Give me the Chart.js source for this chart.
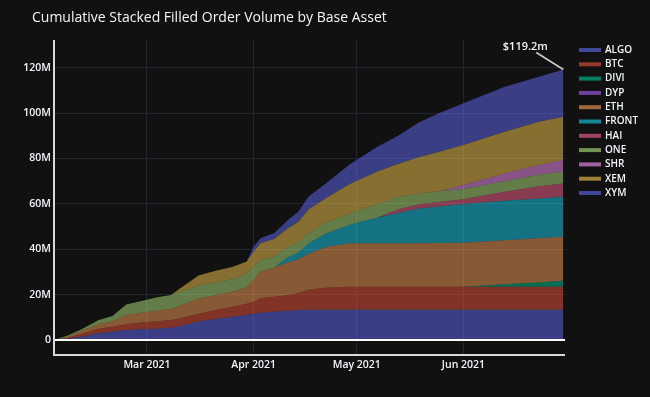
<!DOCTYPE html>
<html>
<head>
<meta charset="utf-8">
<script src="https://cdn.jsdelivr.net/npm/chart.js@4.4.0/dist/chart.umd.min.js"></script>
<style>
  html, body { margin: 0; padding: 0; background: #111111; }
  #wrap { width: 650px; height: 397px; }
</style>
</head>
<body>
<div id="wrap"><canvas id="chart" width="650" height="397"></canvas></div>
<script>
// ======= Data (values in $M, cumulative per asset) =======
const sampleDates = [
  "2021-02-02", "2021-02-06", "2021-02-10", "2021-02-15", "2021-02-19", "2021-02-23",
  "2021-02-28", "2021-03-04", "2021-03-08", "2021-03-10", "2021-03-16", "2021-03-21",
  "2021-03-26", "2021-03-30", "2021-04-01", "2021-04-03", "2021-04-07", "2021-04-11",
  "2021-04-14", "2021-04-17", "2021-04-22", "2021-04-29", "2021-05-07", "2021-05-13",
  "2021-05-19", "2021-05-25", "2021-06-01", "2021-06-13", "2021-06-23", "2021-06-30"
];

const algo  = [0, 0.6, 1.4, 3.0, 3.6, 4.4, 4.7, 5.0, 5.4, 5.9, 8.2, 9.3, 10.3, 11.0, 11.5, 12.0, 12.5, 12.9, 13.1, 13.3, 13.3, 13.3, 13.3, 13.3, 13.3, 13.3, 13.3, 13.3, 13.3, 13.3];
const btc   = [0, 0.4, 1.3, 2.0, 2.2, 2.6, 3.1, 3.3, 3.4, 3.4, 3.4, 3.9, 4.4, 5.0, 5.4, 6.4, 6.6, 6.9, 7.5, 8.9, 9.7, 10.2, 10.2, 10.2, 10.2, 10.2, 10.2, 10.2, 10.2, 10.2];
const divi  = [0, 0, 0, 0, 0, 0, 0, 0, 0, 0, 0, 0, 0, 0, 0, 0, 0, 0, 0, 0, 0, 0, 0, 0, 0, 0, 0, 1.1, 1.9, 2.6];
const dyp   = [0, 0, 0, 0, 0, 0, 0, 0, 0, 0, 0, 0, 0, 0, 0, 0, 0, 0, 0, 0, 0, 0, 0, 0, 0, 0, 0, 0, 0, 0];
const eth   = [0, 0.4, 1.3, 2.0, 2.4, 4.0, 4.3, 4.6, 4.9, 5.5, 6.6, 6.6, 6.6, 7.3, 9.5, 11.7, 12.9, 14.5, 14.9, 15.8, 18.0, 19.1, 19.1, 19.1, 19.1, 19.2, 19.4, 19.4, 19.4, 19.4];
const front = [0, 0, 0, 0, 0, 0, 0, 0, 0, 0, 0, 0, 0, 0, 0, 0, 0, 2.2, 3.0, 4.5, 5.8, 8.2, 11.4, 13.4, 15.4, 16.1, 17.0, 17.4, 17.6, 17.6];
const hai   = [0, 0, 0, 0, 0, 0, 0, 0, 0, 0, 0, 0, 0, 0, 0, 0, 0, 0, 0, 0, 0, 0, 0, 1.5, 1.8, 2.0, 2.1, 3.9, 5.4, 5.9];
const one   = [0, 0.6, 0.8, 1.8, 2.4, 4.6, 5.3, 5.9, 6.1, 6.1, 5.7, 5.7, 5.6, 5.9, 5.9, 5.1, 4.8, 4.5, 4.7, 4.5, 5.0, 5.0, 5.8, 5.5, 4.8, 4.8, 4.6, 4.7, 5.0, 5.1];
const shr   = [0, 0, 0, 0, 0, 0, 0, 0, 0, 0, 0, 0, 0, 0, 0, 0, 0, 0, 0, 0, 0, 0, 0, 0, 0, 0, 1.7, 3.4, 4.3, 5.2];
const xem   = [0, 0, 0, 0, 0, 0, 0, 0, 0, 1.1, 4.5, 5.0, 5.4, 5.4, 6.6, 7.4, 7.7, 8.2, 8.8, 10.5, 10.7, 13.0, 14.5, 14.6, 15.9, 17.4, 17.6, 18.4, 19.1, 19.1];
const xym   = [0, 0, 0, 0, 0, 0, 0, 0, 0, 0, 0, 0, 0, 0, 2.2, 2.2, 2.7, 3.7, 4.5, 5.7, 6.5, 8.7, 10.9, 12.4, 15.3, 17.0, 18.4, 19.8, 19.8, 20.8];

const assetNames = ["ALGO", "BTC", "DIVI", "DYP", "ETH", "FRONT", "HAI", "ONE", "SHR", "XEM", "XYM"];
const assetSeries = [algo, btc, divi, dyp, eth, front, hai, one, shr, xem, xym];
const assetColors = ["99,110,250", "239,85,59", "0,204,150", "171,99,250", "255,161,90", "25,211,243",
                     "255,102,146", "182,232,128", "255,151,255", "254,203,82", "99,110,250"];

const yTicks = [0, 20, 40, 60, 80, 100, 120];
const xTickDates = ["2021-03-01", "2021-04-01", "2021-05-01", "2021-06-01"];
const xTickLabels = ["Mar 2021", "Apr 2021", "May 2021", "Jun 2021"];
const totalLabel = "$119.2m";

// ======= Helpers =======
const dayZero = Date.UTC(2021, 1, 1);
function toDay(s) {
  const p = s.split("-").map(Number);
  return (Date.UTC(p[0], p[1] - 1, p[2]) - dayZero) / 86400000;
}
const sampleDays = sampleDates.map(toDay);
const xTickDays = xTickDates.map(toDay);

const TEXT = "#f2f5fa";
const GRID = "#20262f";
const FONT = '"Open Sans", "DejaVu Sans", sans-serif';

// ======= Datasets =======
const datasets = assetNames.map((name, i) => ({
  label: name,
  data: assetSeries[i].map((v, j) => ({ x: sampleDays[j], y: v * 1e6 })),
  backgroundColor: `rgba(${assetColors[i]},0.5)`,
  borderColor: "rgba(0,0,0,0)",
  borderWidth: 0.5,
  pointRadius: 0,
  tension: 0,
  fill: i === 0 ? "origin" : "-1"
}));

// ======= Decorations: title, legend, frame, annotation =======
const decorations = {
  id: "decorations",
  afterDatasetsDraw(chart) {
    const { ctx, chartArea, scales } = chart;
    ctx.save();
    // zero line
    const y0 = scales.y.getPixelForValue(0);
    ctx.strokeStyle = "#ffffff";
    ctx.lineWidth = 2;
    ctx.beginPath();
    ctx.moveTo(chartArea.left, y0);
    ctx.lineTo(chartArea.right, y0);
    ctx.stroke();
    // axis lines
    ctx.strokeStyle = "#d8d8d8";
    ctx.lineWidth = 2;
    ctx.beginPath();
    ctx.moveTo(chartArea.left, chartArea.top);
    ctx.lineTo(chartArea.left, chartArea.bottom);
    ctx.lineTo(chartArea.right, chartArea.bottom);
    ctx.stroke();

    // annotation for the stacked total
    const last = sampleDays.length - 1;
    let total = 0;
    assetSeries.forEach(s => total += s[last]);
    const px = scales.x.getPixelForValue(sampleDays[last]);
    const py = scales.y.getPixelForValue(total * 1e6);
    ctx.strokeStyle = "#d0d0d0";
    ctx.lineWidth = 1.5;
    ctx.beginPath();
    ctx.moveTo(px, py);
    ctx.lineTo(px - 27, py - 17);
    ctx.stroke();
    ctx.fillStyle = TEXT;
    ctx.font = `600 11px ${FONT}`;
    ctx.textAlign = "center";
    ctx.textBaseline = "middle";
    ctx.fillText(totalLabel, px - 38, py - 23);

    // title
    ctx.textAlign = "left";
    ctx.textBaseline = "alphabetic";
    ctx.font = `14px ${FONT}`;
    ctx.fillText("Cumulative Stacked Filled Order Volume by Base Asset", 32, 22);

    // legend
    ctx.font = `600 10px ${FONT}`;
    ctx.textBaseline = "middle";
    assetNames.forEach((name, i) => {
      const ly = 50 + i * 14.3;
      ctx.fillStyle = `rgba(${assetColors[i]},0.6)`;
      ctx.fillRect(579, ly - 2, 22, 4);
      ctx.fillStyle = TEXT;
      ctx.fillText(name, 605, ly);
    });
    ctx.restore();
  }
};

// ======= Chart =======
const ctx = document.getElementById("chart").getContext("2d");
new Chart(ctx, {
  type: "line",
  data: { datasets },
  options: {
    responsive: false,
    animation: false,
    devicePixelRatio: 1,
    layout: { padding: { top: 40, right: 85, bottom: 0, left: 0 } },
    plugins: { legend: { display: false }, tooltip: { enabled: false } },
    scales: {
      x: {
        type: "linear",
        min: 1,
        max: 149.5,
        afterFit: s => { s.height = 42; },
        afterBuildTicks: s => { s.ticks = xTickDays.map(v => ({ value: v })); },
        grid: { color: GRID, lineWidth: 1, drawTicks: false },
        border: { display: false },
        ticks: {
          color: TEXT,
          font: { family: FONT, size: 10.5, weight: "600" },
          padding: 4,
          maxRotation: 0,
          autoSkip: false,
          callback: v => xTickLabels[xTickDays.indexOf(v)]
        }
      },
      y: {
        stacked: true,
        min: -6.6e6,
        max: 132.2e6,
        afterFit: s => { s.width = 54; },
        afterBuildTicks: s => { s.ticks = yTicks.map(v => ({ value: v * 1e6 })); },
        grid: { color: GRID, lineWidth: 1, drawTicks: false },
        border: { display: false },
        ticks: {
          color: TEXT,
          font: { family: FONT, size: 10.5, weight: "600" },
          padding: 3,
          callback: v => v === 0 ? "0" : (v / 1e6) + "M"
        }
      }
    }
  },
  plugins: [decorations]
});
</script>
</body>
</html>
